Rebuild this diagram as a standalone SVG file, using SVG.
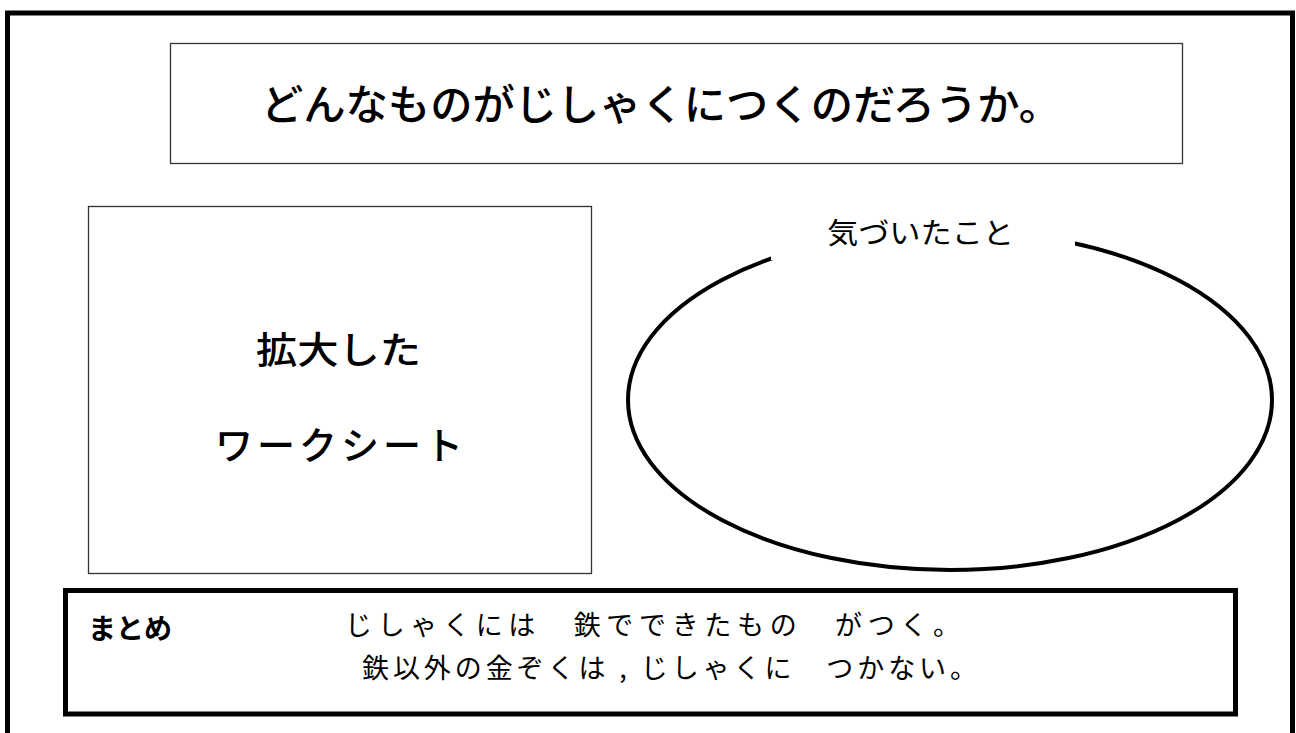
<svg xmlns="http://www.w3.org/2000/svg" width="1296" height="733" viewBox="0 0 1296 733">
<style>
.t{font-family:"Noto Sans CJK JP","Noto Sans",sans-serif;fill:#000}
.thin{fill:#fff;stroke:#333;stroke-width:1.3}
</style>
<rect width="1296" height="733" fill="#fff"/>
<path d="M7.5,740 V13 H1292.5 V740" fill="none" stroke="#000" stroke-width="5"/>
<g id="title">
<rect class="thin" x="170.5" y="43.5" width="1012" height="120"/>
<text class="t" x="261" y="120" font-size="42" font-weight="500" textLength="800" lengthAdjust="spacingAndGlyphs">どんなものがじしゃくにつくのだろうか。</text>
</g>
<g id="worksheet">
<rect class="thin" x="88.5" y="206.5" width="503" height="367"/>
<text class="t" x="256" y="364" font-size="37" font-weight="500" textLength="165" lengthAdjust="spacingAndGlyphs">拡大した</text>
<text class="t" x="215" y="459" font-size="38" font-weight="500" textLength="248" lengthAdjust="spacing">ワークシート</text>
</g>
<g id="notice">
<ellipse cx="950" cy="400" rx="322" ry="170" fill="none" stroke="#000" stroke-width="4"/>
<rect x="771" y="190" width="304" height="70" fill="#fff"/>
<text class="t" x="827" y="244" font-size="29" textLength="187" lengthAdjust="spacingAndGlyphs">気づいたこと</text>
</g>
<g id="summary">
<rect x="65.5" y="590.5" width="1170" height="123.5" fill="#fff" stroke="#000" stroke-width="5"/>
<text class="t" x="88" y="639" font-size="28" font-weight="700" textLength="84" lengthAdjust="spacingAndGlyphs">まとめ</text>
<text class="t" x="345" y="635" font-size="27" textLength="615" lengthAdjust="spacing">じしゃくには　鉄でできたもの　がつく。</text>
<text class="t" x="362" y="678" font-size="27" textLength="615" lengthAdjust="spacing">鉄以外の金ぞくは , じしゃくに　つかない。</text>
</g>
</svg>
